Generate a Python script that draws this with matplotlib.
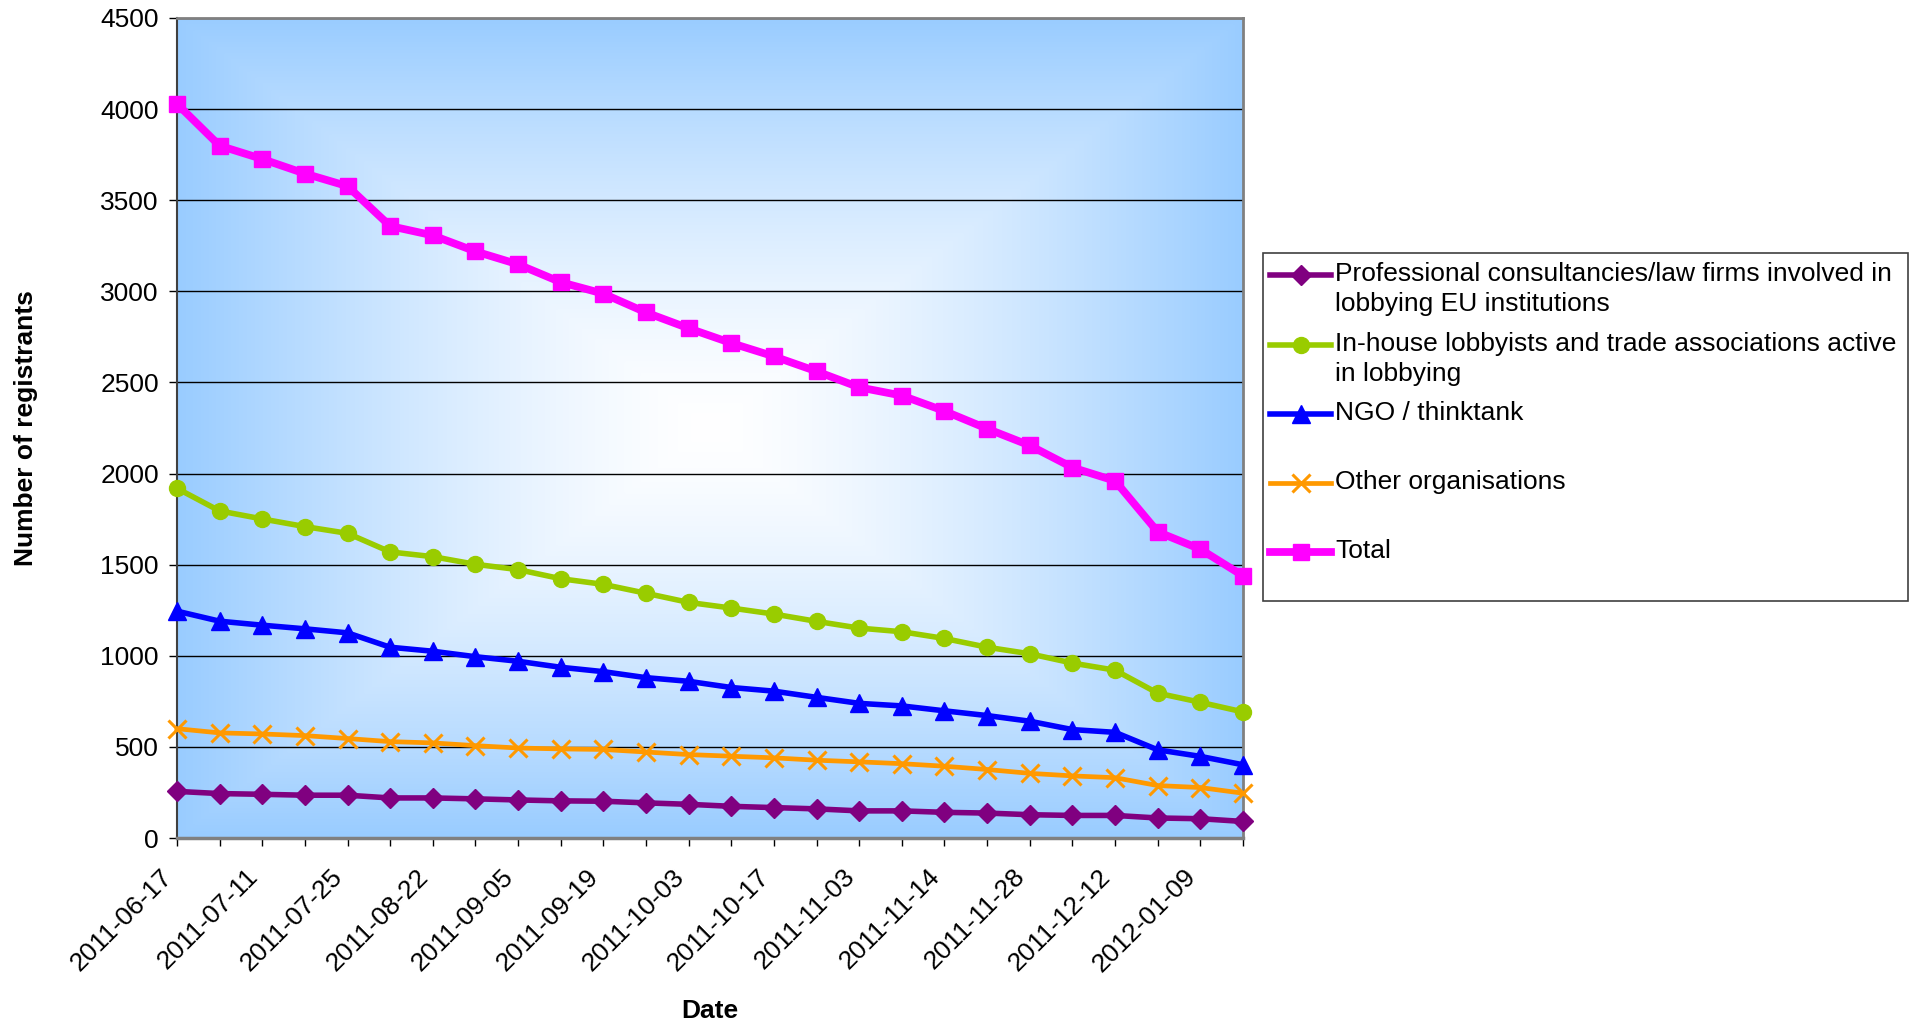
import numpy as np
import matplotlib
matplotlib.use('Agg')
import matplotlib.pyplot as plt
from matplotlib.lines import Line2D
from matplotlib.patches import Rectangle

plt.rcParams['font.family'] = ['Liberation Sans', 'DejaVu Sans']

# Data (26 snapshots, every other one labelled)
tick_labels = ['2011-06-17', '2011-07-11', '2011-07-25', '2011-08-22', '2011-09-05',
               '2011-09-19', '2011-10-03', '2011-10-17', '2011-11-03', '2011-11-14',
               '2011-11-28', '2011-12-12', '2012-01-09']

professional = [256, 244, 240, 235, 235, 220, 220, 215, 209, 204, 202, 193, 185,
                174, 167, 160, 149, 149, 141, 137, 128, 124, 124, 110, 106, 91]
inhouse = [1919, 1795, 1751, 1709, 1672, 1570, 1544, 1502, 1473, 1423, 1392, 1343, 1293,
           1262, 1229, 1189, 1152, 1132, 1095, 1047, 1011, 960, 921, 795, 745, 692]
ngo = [1245, 1190, 1168, 1148, 1126, 1047, 1025, 995, 970, 937, 913, 880, 860,
       826, 806, 772, 739, 725, 698, 672, 641, 595, 580, 484, 448, 402]
other = [600, 577, 571, 562, 546, 529, 522, 507, 494, 489, 486, 472, 458,
         449, 440, 427, 418, 408, 394, 376, 355, 341, 331, 288, 277, 246]
total = [4029, 3799, 3726, 3646, 3577, 3358, 3307, 3219, 3148, 3050, 2987, 2884, 2797,
         2716, 2643, 2561, 2473, 2428, 2343, 2246, 2154, 2033, 1960, 1680, 1585, 1439]

series_names = ['Professional consultancies/law firms involved in\nlobbying EU institutions',
                'In-house lobbyists and trade associations active\nin lobbying',
                'NGO / thinktank',
                'Other organisations',
                'Total']
series_values = [professional, inhouse, ngo, other, total]
colors = ['#800080', '#99CC00', '#0000FF', '#FF9900', '#FF00FF']
markers = ['D', 'o', '^', 'x', 's']
msizes = [10.5, 11.5, 12.5, 12.5, 11.5]
lwidths = [4.0, 4.0, 4.0, 3.4, 5.6]
FS = 19

fig = plt.figure(figsize=(19.17, 10.26), dpi=100)
ax = fig.add_axes([0.0923, 0.1832, 0.5561, 0.7993])

# rectangular gradient background, blue edges -> white centre
u = np.linspace(-1, 1, 400)
v = np.linspace(-1, 1, 300)
U, V = np.meshgrid(u, v)
t = np.clip(np.maximum(np.abs(U), np.abs(V)), 0, 1) ** 1.4
edge = np.array([153, 204, 255]) / 255.0
img = (1 - t)[..., None] * np.ones(3) + t[..., None] * edge
ax.imshow(img, extent=(0, 1, 0, 1), transform=ax.transAxes, aspect='auto', zorder=0)

x = np.arange(len(total))
for vals, name, c, m, ms, lw in zip(series_values, series_names, colors, markers, msizes, lwidths):
    ax.plot(x, vals, color=c, marker=m, markersize=ms, linewidth=lw,
            markeredgewidth=2.2 if m == 'x' else 1, markeredgecolor=c,
            label=name, zorder=3, clip_on=False)

ax.set_xlim(0, len(total) - 1)
ax.set_ylim(0, 4500)
ax.set_yticks(np.arange(0, 4501, 500))
ax.yaxis.grid(True, color='black', linewidth=1.0, zorder=1)
ax.set_axisbelow(True)

ax.set_xticks(x)
labels = []
for i in range(len(total)):
    labels.append(tick_labels[i // 2] if i % 2 == 0 and i // 2 < len(tick_labels) else '')
ax.set_xticklabels(labels, rotation=45, ha='right', va='top', fontsize=FS)
ax.tick_params(axis='x', length=6, width=1, pad=13, color='black')
ax.tick_params(axis='y', length=6, width=1, pad=7, labelsize=FS, color='black')

for s in ['top', 'right']:
    ax.spines[s].set_color('#808080')
    ax.spines[s].set_linewidth(2)
ax.spines['left'].set_color('#404040')
ax.spines['left'].set_linewidth(1.5)
ax.spines['bottom'].set_color('#808080')
ax.spines['bottom'].set_linewidth(2.5)

fig.text(0.0135, 0.5832, 'Number of registrants', rotation=90, ha='center', va='center',
         fontsize=FS, fontweight='bold')
fig.text(0.3705, 0.0145, 'Date', ha='center', va='center', fontsize=FS, fontweight='bold')

# legend drawn by hand so rows keep Excel's spacing
W, H = 1917.0, 1026.0
fig.patches.append(Rectangle((1263 / W, 1 - 601 / H), (1908 - 1263) / W, (601 - 253) / H,
                             transform=fig.transFigure, facecolor='white',
                             edgecolor='#404040', linewidth=1.2))
row_y = [275, 345, 414, 483, 552]
for ry, name, c, m, ms, lw in zip(row_y, series_names, colors, markers, msizes, lwidths):
    yf = 1 - ry / H
    fig.lines.append(Line2D([1270 / W, 1331 / W], [yf, yf], transform=fig.transFigure,
                            color=c, linewidth=lw))
    fig.lines.append(Line2D([1301 / W], [yf], transform=fig.transFigure, color=c,
                            marker=m, markersize=ms, markeredgecolor=c,
                            markeredgewidth=2.2 if m == 'x' else 1, linestyle='none'))
    fig.text(1335 / W, yf + 13 / H, name, ha='left', va='top', fontsize=FS,
             linespacing=1.3, transform=fig.transFigure)

fig.savefig('out.png', dpi=100)
